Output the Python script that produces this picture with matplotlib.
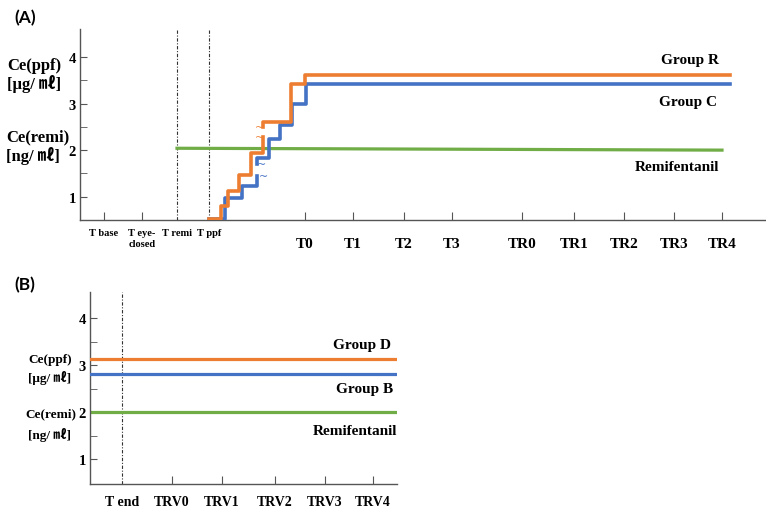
import matplotlib
matplotlib.use("Agg")
import matplotlib.pyplot as plt

W, H = 766, 510

ORANGE = "#ED7D31"
BLUE = "#4472C4"
GREEN = "#70AD47"
AXC = "#555555"

SERIF = ["Liberation Serif", "Noto Sans CJK KR"]

# ---- panel A data ----
a_tick_pos = [2.4, 6.2, 9.7, 12.9, 22.5, 27.3, 32.4, 37.2, 44.2, 49.4, 54.4, 59.4, 64.2]
a_tick_labels = ["T base", "T eye-\nclosed", "T remi", "T ppf",
                 "T0", "T1", "T2", "T3", "TR0", "TR1", "TR2", "TR3", "TR4"]
a_small = 4          # first four labels are the small pre-induction ones
a_dotted = [9.7, 12.9]

# step curves, split where the original has a break mark
ppf_r_x1 = [12.93, 14.07, 14.77, 15.93, 17.1, 18.33]
ppf_r_y1 = [0.52, 0.79, 1.13, 1.47, 1.93, 2.29]
ppf_r_x2 = [18.33, 18.33, 21.1, 22.5, 65.0]
ppf_r_y2 = [2.49, 2.61, 3.41, 3.62, 3.62]

ppf_c_x1 = [12.9, 14.5, 16.17, 17.67]
ppf_c_y1 = [0.52, 0.97, 1.23, 1.45]
ppf_c_x2 = [17.73, 17.73, 18.9, 20.0, 21.17, 22.6, 65.0]
ppf_c_y2 = [1.70, 1.83, 2.24, 2.54, 2.98, 3.42, 3.42]

remi_a_x = [9.7, 64.2]
remi_a_y = [2.04, 2.00]

# ---- panel B data ----
b_tick_pos = [3.2, 8.2, 13.2, 18.5, 23.5, 28.3]
b_tick_labels = ["T end", "TRV0", "TRV1", "TRV2", "TRV3", "TRV4"]
b_x = [0, 30.7]
ppf_d = [3.14, 3.14]
ppf_b = [2.82, 2.82]
remi_b = [2.0, 2.0]

fig = plt.figure(figsize=(W / 100, H / 100), dpi=100)


def px_axes(l, t, r, b):
    return fig.add_axes([l / W, 1 - b / H, (r - l) / W, (b - t) / H])


def style_axes(ax, ylim):
    for s in ["top", "right"]:
        ax.spines[s].set_visible(False)
    for s in ["left", "bottom"]:
        ax.spines[s].set_color(AXC)
        ax.spines[s].set_linewidth(1.0)
    ax.set_ylim(*ylim)
    ax.set_yticks([1, 2, 3, 4])
    ax.set_yticks([1.5, 2.5, 3.5], minor=True)
    ax.tick_params(axis="y", which="both", direction="in", length=5, color=AXC, pad=3)
    ax.tick_params(axis="x", which="both", direction="in", length=6, color=AXC)
    for lab in ax.get_yticklabels():
        lab.set_family(SERIF)
        lab.set_fontweight("bold")
        lab.set_fontsize(10.5)


def dotted(ax, x):
    ax.axvline(x, color="#333333", lw=0.8, dashes=(3, 1.5, 1, 1.5), zorder=1)


def fig_text(x, y, s, size, **kw):
    fig.text(x / W, 1 - y / H, s, fontsize=size, family=SERIF, fontweight="bold",
             ha="left", va="center", **kw)


# ================= panel A =================
axA = px_axes(80, 30, 766, 221)
axA.set_xlim(0, 68.6)
style_axes(axA, (0.5, 4.6))
axA.set_xticks(a_tick_pos)
axA.set_xticklabels(a_tick_labels)
for i, (tick, lab) in enumerate(zip(axA.xaxis.get_major_ticks(), axA.get_xticklabels())):
    lab.set_family(SERIF)
    lab.set_fontweight("bold")
    if i < a_small:
        lab.set_fontsize(7.5)
        lab.set_linespacing(1.2)
        tick.set_pad(6)
    else:
        lab.set_fontsize(11)
        tick.set_pad(12)
    if a_tick_pos[i] in a_dotted:
        tick.tick1line.set_visible(False)

for x in a_dotted:
    dotted(axA, x)

axA.plot(remi_a_x, remi_a_y, color=GREEN, lw=2.3, zorder=2)
axA.step(ppf_c_x1, ppf_c_y1, where="post", color=BLUE, lw=2.6, zorder=3)
axA.step(ppf_c_x2, ppf_c_y2, where="post", color=BLUE, lw=2.6, zorder=3)
axA.step(ppf_r_x1, ppf_r_y1, where="post", color=ORANGE, lw=2.6, zorder=4)
axA.step(ppf_r_x2, ppf_r_y2, where="post", color=ORANGE, lw=2.6, zorder=4)

# break marks on the step curves
for (bx, by, c) in [(17.95, 2.49, ORANGE), (18.0, 2.29, ORANGE),
                    (18.15, 1.70, BLUE), (18.3, 1.45, BLUE)]:
    axA.text(bx, by, "~", color=c, fontsize=8, ha="center", va="center",
             family="DejaVu Sans", zorder=5)

tkw = dict(family=SERIF, fontweight="bold", fontsize=11, ha="center", va="center")
axA.text(61.0, 3.94, "Group R", **tkw)
axA.text(60.8, 3.05, "Group C", **tkw)
axA.text(59.7, 1.64, "Remifentanil", **tkw)

fig_text(7, 66, "Ce(ppf)", 12)
fig_text(7, 84, "[μg/ ㎖]", 12)
fig_text(6, 137, "Ce(remi)", 12)
fig_text(6, 156, "[ng/ ㎖]", 12)
fig.text(25 / W, 1 - 18 / H, "(A)", fontsize=12.5, family="Lato", fontweight="bold",
         ha="center", va="center")

# ================= panel B =================
axB = px_axes(90, 293, 397, 485)
axB.set_xlim(0, 30.7)
style_axes(axB, (0.47, 4.56))
axB.set_xticks(b_tick_pos)
axB.set_xticklabels(b_tick_labels)
for i, (tick, lab) in enumerate(zip(axB.xaxis.get_major_ticks(), axB.get_xticklabels())):
    lab.set_family(SERIF)
    lab.set_fontweight("bold")
    lab.set_fontsize(10)
    tick.set_pad(8)
tBend = axB.xaxis.get_major_ticks()[0]
tBend.tick1line.set_visible(False)
dotted(axB, b_tick_pos[0])

axB.plot(b_x, remi_b, color=GREEN, lw=2.3, zorder=2)
axB.plot(b_x, ppf_b, color=BLUE, lw=2.3, zorder=3)
axB.plot(b_x, ppf_d, color=ORANGE, lw=2.3, zorder=4)

axB.text(27.2, 3.45, "Group D", **tkw)
axB.text(27.5, 2.5, "Group B", **tkw)
axB.text(26.5, 1.61, "Remifentanil", **tkw)

fig_text(28, 360, "Ce(ppf)", 9.5)
fig_text(28, 378, "[μg/ ㎖]", 9.5)
fig_text(25, 414, "Ce(remi)", 9.5)
fig_text(28, 435, "[ng/ ㎖]", 9.5)
fig.text(25 / W, 1 - 285 / H, "(B)", fontsize=12.5, family="Lato", fontweight="bold",
         ha="center", va="center")

fig.savefig("out.png", dpi=100)
